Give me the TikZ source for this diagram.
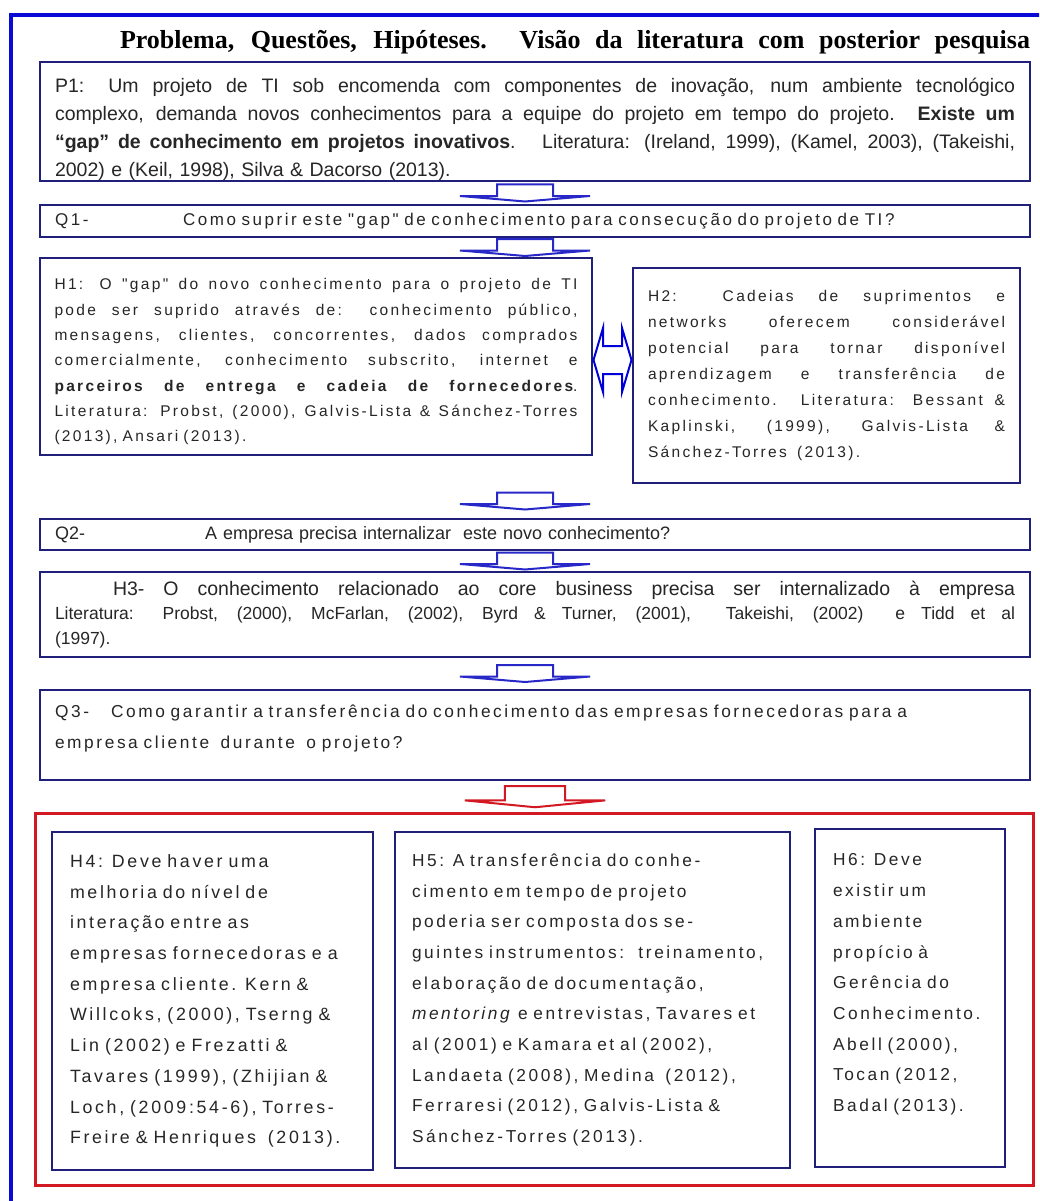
\documentclass[tikz,border=0pt]{standalone}
\usepackage{fontspec}
\setmainfont{Liberation Sans}
\newfontfamily\titlefont{Liberation Serif}
\newfontfamily\widesf[LetterSpace=15]{Liberation Sans}
\usetikzlibrary{calc}
\definecolor{navy}{RGB}{32,32,122}
\definecolor{frameblue}{RGB}{10,10,215}
\definecolor{arrowblue}{RGB}{40,40,200}
\definecolor{boxred}{RGB}{210,25,35}
\newcommand{\jl}[2][960pt]{\makebox[#1][s]{\spaceskip=0pt\xspaceskip=0pt\relax #2}\\}

\begin{document}
\begin{tikzpicture}[x=1pt,y=-1pt,
    navybox/.style={draw=navy, line width=2.5pt, fill=white, inner ysep=0pt, align=left, text=black!85},
    wtxt/.style={font=\widesf\fontsize{17.3}{30.7}\selectfont},
    blockarrow/.style={draw=arrowblue, line width=2pt, fill=white},
    pics/downarrow/.style={code={
      \draw[pic actions] (-28,-8.5) -- (28,-8.5) -- (28,3) -- (65,3) -- (0,8.5) -- (-65,3) -- (-28,3) -- cycle;}},
    pics/twoway/.style={code={
      \draw[pic actions] (-19,0) -- (-9.5,-32) -- (-9.5,-14) -- (9.5,-14) -- (9.5,-32)
        -- (19,0) -- (9.5,32) -- (9.5,14) -- (-9.5,14) -- (-9.5,32) -- cycle;}}
  ]
  \useasboundingbox (0,0) rectangle (1039,1201);
  \fill[white] (0,0) rectangle (1039,1201);
  \clip (0,0) rectangle (1039,1201);

  % outer frame
  \draw[frameblue, line width=4pt] (11,1230) -- (11,15) -- (1060,15);

  % title
  \node[font=\titlefont\bfseries\fontsize{26}{30}\selectfont] (title) at (575,42)
    {\makebox[910pt][s]{Problema, Questões, Hipóteses. Visão da literatura com posterior pesquisa}};

  % problem and questions
  \node[navybox, font=\fontsize{19.5}{27.7}\selectfont, minimum width=990, minimum height=119, text width=960, inner xsep=15] (p1) at (535,121.5)
    {\jl{\rule{0pt}{30pt}P1: Um projeto de TI sob encomenda com componentes de inovação, num ambiente tecnológico}
     \jl{complexo, demanda novos conhecimentos para a equipe do projeto em tempo do projeto. \textbf{Existe um}}
     \jl{\textbf{“gap” de conhecimento em projetos inovativos}. \ Literatura: (Ireland, 1999), (Kamel, 2003), (Takeishi,}
     2002) e (Keil, 1998), Silva \& Dacorso (2013).};
  \node[navybox, font=\widesf\fontsize{17}{30}\selectfont, minimum width=990, minimum height=32, text width=960, inner xsep=15] (q1) at (535,221)
    {\makebox[128pt][l]{Q1-}Como suprir este "gap" de conhecimento para consecução do projeto de TI?};

  % hypotheses H1 and H2
  \node[navybox, font=\widesf\fontsize{15.5}{25.3}\selectfont, minimum width=552, minimum height=197, text width=523, inner xsep=14.5] (h1) at (316,356.5)
    {\jl[523pt]{\rule{0pt}{22pt}H1: O "gap" do novo conhecimento para o projeto de TI}
     \jl[523pt]{pode ser suprido através de: conhecimento público,}
     \jl[523pt]{mensagens, clientes, concorrentes, dados comprados}
     \jl[523pt]{comercialmente, conhecimento subscrito, internet e}
     \jl[523pt]{\textbf{parceiros de entrega e cadeia de fornecedores}.}
     \jl[523pt]{Literatura: Probst, (2000), Galvis-Lista \& Sánchez-Torres}
     (2013), Ansari (2013).};
  \node[navybox, font=\widesf\fontsize{15.5}{26}\selectfont, minimum width=387, minimum height=215, text width=357, inner xsep=15] (h2) at (826.5,375.5)
    {\jl[357pt]{H2: Cadeias de suprimentos e}
     \jl[357pt]{networks oferecem considerável}
     \jl[357pt]{potencial para tornar disponível}
     \jl[357pt]{aprendizagem e transferência de}
     \jl[357pt]{conhecimento. Literatura: Bessant \&}
     \jl[357pt]{Kaplinski, (1999), Galvis-Lista \&}
     Sánchez-Torres \ (2013).};

  % Q2, H3, Q3
  \node[navybox, font=\fontsize{18}{27}\selectfont, minimum width=990, minimum height=31, text width=960, inner xsep=15] (q2) at (535,534.5)
    {\makebox[150pt][l]{Q2-}A empresa precisa internalizar \ este novo conhecimento?};
  \node[navybox, font=\fontsize{19.5}{24.5}\selectfont, minimum width=990, minimum height=85, text width=960, inner xsep=15] (h3) at (535,614.5)
    {\jl{\hspace*{58pt}H3- O conhecimento relacionado ao core business precisa ser internalizado à empresa}
     {\fontsize{17.5}{24.5}\selectfont\jl{Literatura: Probst, (2000), McFarlan, (2002), Byrd \& Turner, (2001), \ Takeishi, (2002) \ e Tidd et al}
     (1997).}};
  \node[navybox, font=\widesf\fontsize{17.3}{31}\selectfont, minimum width=990, minimum height=90, text width=960, inner xsep=15] (q3) at (535,735)
    {\makebox[56pt][l]{Q3-}Como garantir a transferência do conhecimento das empresas fornecedoras para a\\
     empresa cliente \ durante \ o projeto?\rule[-16pt]{0pt}{1pt}};

  % red group with H4, H5, H6
  \node[draw=boxred, line width=3pt, minimum width=998, minimum height=372] (grp) at (534,999.5) {};
  \node[navybox, font=\widesf\fontsize{17.8}{30.7}\selectfont, minimum width=321, minimum height=338, text width=285, inner xsep=18] (h4) at (212.5,1001)
    {H4: Deve haver uma\\
     melhoria do nível de\\
     interação entre as\\
     empresas fornecedoras e a\\
     empresa cliente. Kern \&\\
     Willcoks, (2000), Tserng \&\\
     Lin (2002) e Frezatti \&\\
     Tavares (1999), (Zhijian \&\\
     Loch, (2009:54-6), Torres-\\
     Freire \& Henriques \ (2013).};
  \node[navybox, wtxt, minimum width=395, minimum height=336, text width=361, inner xsep=17] (h5) at (592.5,1000)
    {H5: A transferência do conhe-\\
     cimento em tempo de projeto\\
     poderia ser composta dos se-\\
     guintes instrumentos: \ treinamento,\\
     elaboração de documentação,\\
     \textit{mentoring} e entrevistas, Tavares et\\
     al (2001) e Kamara et al (2002),\\
     Landaeta (2008), Medina \ (2012),\\
     Ferraresi (2012), Galvis-Lista \&\\
     Sánchez-Torres (2013).};
  \node[navybox, wtxt, minimum width=190, minimum height=338, text width=154, inner xsep=18] (h6) at (910,998)
    {H6: Deve\\
     existir um\\
     ambiente\\
     propício à\\
     Gerência do\\
     Conhecimento.\\
     Abell (2000),\\
     Tocan (2012,\\
     Badal (2013).\\
     \mbox{}};

  % block arrows between the boxes
  \path ($(p1.south)!0.5!(q1.north)$) coordinate (a1);
  \path ($(q1.south)!0.5!(q1.south |- h1.north)$) coordinate (a2);
  \path ($(q2.north)!0.5!(q2.north |- h2.south)$) coordinate (a3);
  \path ($(q2.south)!0.5!(h3.north)$) coordinate (a4);
  \path ($(h3.south)!0.5!(q3.north)$) coordinate (a5);
  \path ($(q3.south)!0.5!(q3.south |- grp.north)$) coordinate (a6);
  \path ($(h1.east)!0.5!(h2.west)$) coordinate (a12);
  \foreach \a in {a1,a2,a3,a4,a5}
    \pic[blockarrow] at ($(\a)+(-10,0)$) {downarrow};
  \pic[blockarrow, draw=boxred, xscale=1.08, yscale=1.25] at ($(a6)+(0,0)$) {downarrow};
  \pic[blockarrow, draw=blue!85!black] at ($(a12)+(0,-6)$) {twoway};
\end{tikzpicture}
\end{document}
